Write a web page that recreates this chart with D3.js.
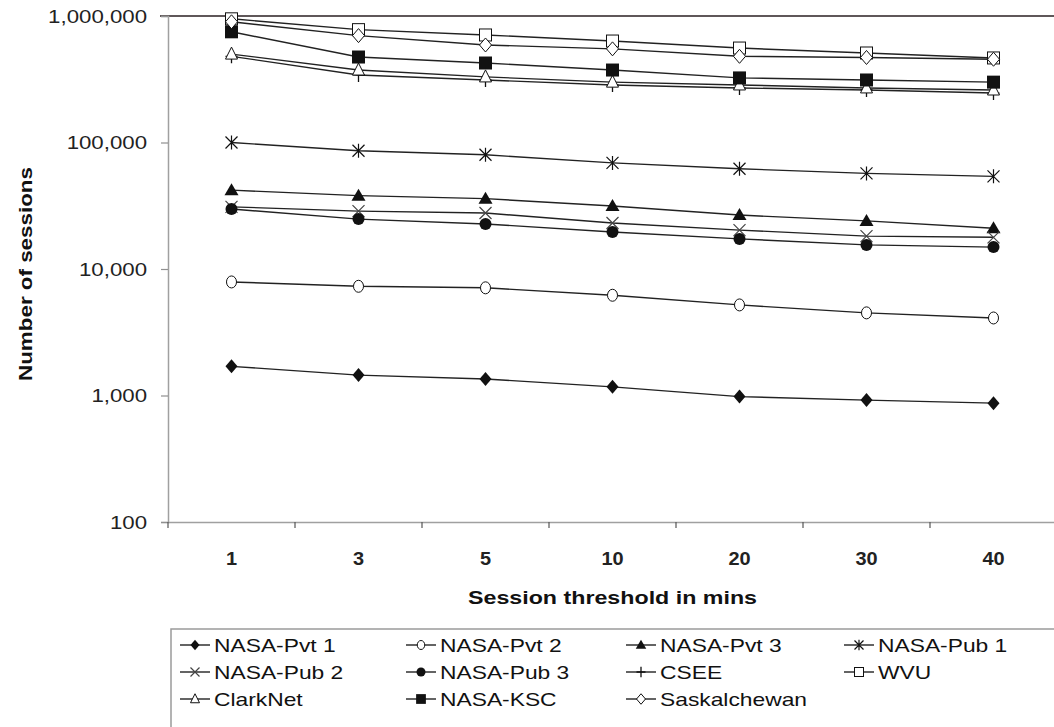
<!DOCTYPE html>
<html>
<head>
<meta charset="utf-8">
<script src="https://cdn.jsdelivr.net/npm/d3@7"></script>
<style>
  html, body { margin: 0; padding: 0; background: #fff; }
  svg { display: block; font-family: "Liberation Sans", Arial, sans-serif; }
</style>
</head>
<body>
<svg id="chart" width="1054" height="727"></svg>
<script>
// ---- data ----
const thresholds = ["1", "3", "5", "10", "20", "30", "40"];
const seriesNames = ["NASA-Pvt 1", "NASA-Pvt 2", "NASA-Pvt 3", "NASA-Pub 1", "NASA-Pub 2",
  "NASA-Pub 3", "CSEE", "WVU", "ClarkNet", "NASA-KSC", "Saskalchewan"];
const nasaPvt1 = [1700, 1450, 1350, 1170, 980, 920, 870];
const nasaPvt2 = [7900, 7300, 7100, 6200, 5200, 4500, 4100];
const nasaPvt3 = [42000, 38000, 36000, 31500, 26700, 24000, 21000];
const nasaPub1 = [100000, 86000, 80000, 69000, 62000, 57000, 54000];
const nasaPub2 = [31000, 28700, 27700, 23100, 20300, 18200, 17800];
const nasaPub3 = [29800, 24800, 22700, 19600, 17300, 15500, 14900];
const csee = [480000, 342000, 312000, 285000, 270000, 260000, 246000];
const wvu = [950000, 780000, 708000, 634000, 558000, 510000, 466000];
const clarkNet = [500000, 374000, 330000, 300000, 285000, 270000, 260000];
const nasaKsc = [750000, 474000, 425000, 374000, 324000, 312000, 300000];
const saskatchewan = [900000, 700000, 590000, 550000, 480000, 470000, 455000];
const yTickValues = [100, 1000, 10000, 100000, 1000000];
const yTickLabels = ["100", "1,000", "10,000", "100,000", "1,000,000"];
const markerTypes = ["diamondFill", "circleOpen", "triangleFill", "asterisk", "cross",
  "circleFill", "plus", "squareOpen", "triangleOpen", "squareFill", "diamondOpen"];

const allValues = [nasaPvt1, nasaPvt2, nasaPvt3, nasaPub1, nasaPub2, nasaPub3,
  csee, wvu, clarkNet, nasaKsc, saskatchewan];
const series = seriesNames.map((n, i) => ({ name: n, values: allValues[i], marker: markerTypes[i] }));

// ---- layout ----
const svg = d3.select("#chart");
const plotLeft = 168, plotRight = 1057, plotTop = 16, plotBottom = 522;
const x = d3.scaleBand().domain(thresholds).range([plotLeft, plotRight]).padding(0);
const y = d3.scaleLog().domain([100, 1000000]).range([plotBottom, plotTop]);
const FONT = "'Liberation Sans', Arial, sans-serif";

function stretch(sel, factor) {
  sel.each(function () {
    const len = this.getComputedTextLength();
    d3.select(this).attr("textLength", len * factor).attr("lengthAdjust", "spacingAndGlyphs");
  });
}

// top border line
svg.append("line").attr("x1", plotLeft - 8).attr("x2", 1054).attr("y1", y(1000000)).attr("y2", y(1000000))
  .attr("stroke", "#2a1f22").attr("stroke-width", 1.6);

// y axis
const yAxis = svg.append("g").attr("transform", `translate(${plotLeft},0)`)
  .call(d3.axisLeft(y).tickValues(yTickValues).tickFormat((d, i) => yTickLabels[i]).tickSize(7).tickPadding(14));
yAxis.select(".domain").attr("stroke", "#a0a0a0").attr("stroke-width", 1.5);
yAxis.selectAll(".tick line").attr("stroke", "#909090").attr("stroke-width", 1.2);
yAxis.selectAll(".tick text").attr("font-size", 19).attr("fill", "#222").attr("font-family", FONT);
stretch(yAxis.selectAll(".tick text"), 1.17);

// x axis
const xAxis = svg.append("g").attr("transform", `translate(0,${plotBottom})`)
  .call(d3.axisBottom(x).tickSize(0).tickPadding(30));
xAxis.select(".domain").attr("stroke", "#a0a0a0").attr("stroke-width", 1.5);
xAxis.selectAll(".tick text").attr("font-size", 19).attr("font-weight", "bold").attr("fill", "#222")
  .attr("font-family", FONT);
stretch(xAxis.selectAll(".tick text"), 1.05);
// tick marks between categories
const boundaries = thresholds.map(t => x(t)).concat([x(thresholds[thresholds.length - 1]) + x.bandwidth()]);
svg.append("g").selectAll("line").data(boundaries).join("line")
  .attr("x1", d => d).attr("x2", d => d).attr("y1", plotBottom).attr("y2", plotBottom + 6)
  .attr("stroke", "#555").attr("stroke-width", 1.2);

// axis titles
svg.append("text").attr("transform", `translate(32,${(plotTop + plotBottom) / 2 + 5}) rotate(-90)`)
  .attr("text-anchor", "middle").attr("font-size", 19).attr("font-weight", "bold").attr("fill", "#111")
  .attr("textLength", 214).attr("lengthAdjust", "spacingAndGlyphs").text("Number of sessions");
svg.append("text").attr("x", x("10") + x.bandwidth() / 2).attr("y", 604)
  .attr("text-anchor", "middle").attr("font-size", 19).attr("font-weight", "bold").attr("fill", "#111")
  .attr("textLength", 289).attr("lengthAdjust", "spacingAndGlyphs").text("Session threshold in mins");

// marker drawing
function drawMarker(g, type, s) {
  const k = s || 1;
  const black = "#111";
  switch (type) {
    case "diamondFill":
      g.append("path").attr("d", `M0,${-7*k}L${6*k},0L0,${7*k}L${-6*k},0Z`).attr("fill", black); break;
    case "diamondOpen":
      g.append("path").attr("d", `M0,${-7*k}L${6*k},0L0,${7*k}L${-6*k},0Z`).attr("fill", "#fff").attr("stroke", black).attr("stroke-width", 1); break;
    case "circleOpen":
      g.append("ellipse").attr("rx", 5*k).attr("ry", 6*k).attr("fill", "#fff").attr("stroke", black).attr("stroke-width", 1); break;
    case "circleFill":
      g.append("circle").attr("r", 6*k).attr("fill", black); break;
    case "triangleFill":
      g.append("path").attr("d", `M0,${-7*k}L${7*k},${5*k}L${-7*k},${5*k}Z`).attr("fill", black); break;
    case "triangleOpen":
      g.append("path").attr("d", `M0,${-7*k}L${6*k},${5*k}L${-6*k},${5*k}Z`).attr("fill", "#fff").attr("stroke", black).attr("stroke-width", 1); break;
    case "squareFill":
      g.append("rect").attr("x", -6.5*k).attr("y", -6.5*k).attr("width", 13*k).attr("height", 13*k).attr("fill", black); break;
    case "squareOpen":
      g.append("rect").attr("x", -6*k).attr("y", -6*k).attr("width", 12*k).attr("height", 12*k).attr("fill", "#fff").attr("stroke", black).attr("stroke-width", 1); break;
    case "asterisk":
      g.append("path").attr("d", `M${-6*k},${-6*k}L${6*k},${6*k}M${6*k},${-6*k}L${-6*k},${6*k}M0,${-7*k}L0,${7*k}`)
        .attr("stroke", black).attr("stroke-width", 1.2).attr("fill", "none"); break;
    case "cross":
      g.append("path").attr("d", `M${-6*k},${-6*k}L${6*k},${6*k}M${6*k},${-6*k}L${-6*k},${6*k}`)
        .attr("stroke", "#444").attr("stroke-width", 1.2).attr("fill", "none"); break;
    case "plus":
      g.append("path").attr("d", `M0,${-7*k}L0,${7*k}M${-6*k},0L${6*k},0`)
        .attr("stroke", black).attr("stroke-width", 1.3).attr("fill", "none"); break;
  }
}

const line = d3.line().x((d, i) => x(thresholds[i]) + x.bandwidth() / 2).y(d => y(d));
const plot = svg.append("g");
series.forEach(s => {
  plot.append("path").datum(s.values).attr("d", line)
    .attr("fill", "none").attr("stroke", "#222").attr("stroke-width", 1.4);
});
series.forEach(s => {
  s.values.forEach((v, i) => {
    const g = plot.append("g").attr("transform", `translate(${x(thresholds[i]) + x.bandwidth() / 2},${y(v)})`);
    drawMarker(g, s.marker, 1);
  });
});

// legend
svg.append("rect").attr("x", 171).attr("y", 629).attr("width", 900).attr("height", 120)
  .attr("fill", "#fff").attr("stroke", "#9a9a9a").attr("stroke-width", 1.5);
const colX = [214, 440, 660, 878];
const rowY = [645, 672, 699];
series.forEach((s, i) => {
  const cx = colX[i % 4], cy = rowY[Math.floor(i / 4)];
  const g = svg.append("g");
  g.append("line").attr("x1", cx - 34).attr("x2", cx - 4).attr("y1", cy).attr("y2", cy)
    .attr("stroke", "#222").attr("stroke-width", 1.4);
  const m = g.append("g").attr("transform", `translate(${cx - 19},${cy})`);
  drawMarker(m, s.marker, 0.75);
  const t = g.append("text").attr("x", cx).attr("y", cy + 7).attr("font-size", 19).attr("fill", "#111")
    .attr("font-family", FONT).text(s.name);
  stretch(t, 1.2);
});
</script>
</body>
</html>
